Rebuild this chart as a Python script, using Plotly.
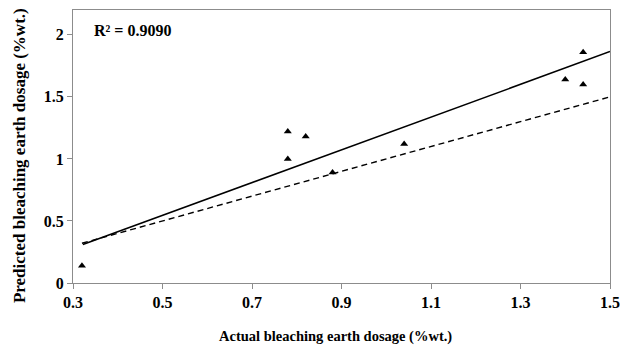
import plotly.graph_objects as go

actual = [0.32, 0.78, 0.78, 0.82, 0.88, 1.04, 1.40, 1.44, 1.44]
predicted = [0.14, 1.22, 1.00, 1.18, 0.89, 1.12, 1.64, 1.86, 1.60]

fit_x = [0.322, 1.5]
fit_y = [0.31, 1.865]

ideal_x = [0.32, 1.5]
ideal_y = [0.32, 1.5]

x_ticks = [0.3, 0.5, 0.7, 0.9, 1.1, 1.3, 1.5]
x_labels = ["0.3", "0.5", "0.7", "0.9", "1.1", "1.3", "1.5"]
y_ticks = [0, 0.5, 1, 1.5, 2]
y_labels = ["0", "0.5", "1", "1.5", "2"]

font = "Liberation Serif, Times New Roman, serif"

fig = go.Figure()
fig.add_trace(go.Scatter(x=ideal_x, y=ideal_y, mode="lines",
                         line=dict(color="black", width=1.4, dash="6px,4px"),
                         showlegend=False))
fig.add_trace(go.Scatter(x=fit_x, y=fit_y, mode="lines",
                         line=dict(color="black", width=1.5),
                         showlegend=False))
fig.add_trace(go.Scatter(x=actual, y=predicted, mode="markers",
                         marker=dict(symbol="triangle-up", size=7, color="black"),
                         showlegend=False))

fig.add_annotation(x=0.036, y=0.962, xref="paper", yref="paper", xanchor="left", yanchor="top",
                   text="<b>R² = 0.9090</b>", showarrow=False,
                   font=dict(family=font, size=16, color="black"))

# axis titles as annotations so margins stay fixed
fig.add_annotation(x=-0.1, y=0.466, xref="paper", yref="paper", xanchor="center", yanchor="middle",
                   text="<b>Predicted bleaching earth dosage (%wt.)</b>", textangle=-90,
                   showarrow=False, font=dict(family=font, size=17, color="black"))
fig.add_annotation(x=0.488, y=-0.196, xref="paper", yref="paper", xanchor="center", yanchor="middle",
                   text="<b>Actual bleaching earth dosage (%wt.)</b>",
                   showarrow=False, font=dict(family=font, size=14.5, color="black"))

fig.update_xaxes(range=[0.3, 1.5], tickvals=x_ticks, ticktext=[f"<b>{t}</b>" for t in x_labels],
                 showgrid=False, zeroline=False, showline=True, linecolor="#8c8c8c", linewidth=1.3,
                 mirror=True, ticks="outside", ticklen=5, tickcolor="#8c8c8c",
                 tickfont=dict(family=font, size=16, color="black"), automargin=False)
fig.update_yaxes(range=[0, 2.2], tickvals=y_ticks, ticktext=[f"<b>{t}</b>" for t in y_labels],
                 showgrid=False, zeroline=False, showline=True, linecolor="#8c8c8c", linewidth=1.3,
                 mirror=True, ticks="outside", ticklen=5, tickcolor="#8c8c8c",
                 tickfont=dict(family=font, size=16, color="black"), automargin=False)

fig.update_layout(width=620, height=345, margin=dict(l=73, r=10, t=10, b=62),
                  plot_bgcolor="white", paper_bgcolor="white",
                  font=dict(family=font, color="black"))

fig.write_html("out.html", config={"displayModeBar": False},
               post_script="document.body.style.margin='0';document.body.style.padding='0';")
